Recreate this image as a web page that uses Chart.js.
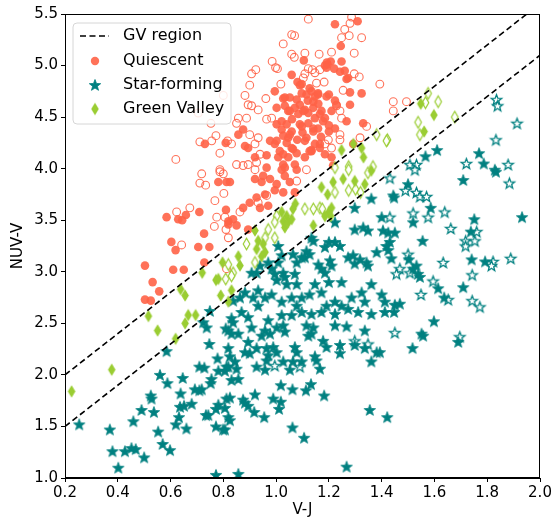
<!DOCTYPE html>
<html>
<head>
<meta charset="utf-8">
<script src="https://cdn.jsdelivr.net/npm/chart.js@4/dist/chart.umd.min.js"></script>
<style>
    html, body { margin: 0; padding: 0; background: #fff; }
    #wrap { width: 554px; height: 523px; }
</style>
</head>
<body>
<div id="wrap"><canvas id="cmd" width="554" height="523"></canvas></div>
<script>
'use strict';

// ---- data ----
var xTicks = [0.2, 0.4, 0.6, 0.8, 1.0, 1.2, 1.4, 1.6, 1.8, 2.0];
var yTicks = [1.0, 1.5, 2.0, 2.5, 3.0, 3.5, 4.0, 4.5, 5.0, 5.5];

// GV region boundaries (end points)
var gvLineX = [0.2, 2.0];
var gvUpperY = [2.0, 5.6];
var gvLowerY = [1.5, 5.1];

var quiescentFilled = [
    [0.73,4.24],[0.809,4.25],
    [1.309,5.43],[1.223,5.40],[1.245,5.19],[1.105,5.05],[1.192,5.03],[1.195,5.01],[1.207,5.04],[1.185,5.0],
    [1.248,5.04],[1.22,4.97],[1.26,4.95],[1.273,4.88],[1.059,4.91],[1.081,4.84],[1.09,4.81],[0.995,4.75],
    [1.027,4.68],[1.052,4.69],[1.097,4.73],[1.115,4.72],[1.134,4.75],[1.147,4.70],[1.159,4.72],[1.2,4.72],
    [1.223,4.66],[1.28,4.74],[1.324,4.73],[1.033,4.61],[1.046,4.56],[1.071,4.59],[1.084,4.53],[1.109,4.57],
    [1.122,4.54],[1.141,4.59],[1.147,4.49],[1.172,4.56],[1.185,4.49],[1.21,4.56],[0.875,4.38],[0.857,4.33],
    [1.002,4.43],[1.021,4.38],[1.04,4.43],[1.059,4.36],[1.027,4.32],[1.046,4.30],[1.097,4.41],[1.122,4.44],
    [1.141,4.36],[1.159,4.39],[1.178,4.46],[1.223,4.39],[1.33,4.44],[0.977,4.27],[0.995,4.24],[1.014,4.17],
    [1.04,4.25],[1.059,4.20],[1.078,4.15],[1.109,4.27],[1.127,4.17],[1.147,4.24],[0.882,4.22],[0.894,4.20],
    [0.964,4.13],[1.008,4.11],[1.027,4.04],[1.046,4.11],[1.071,4.04],[1.109,4.11],[1.134,4.18],[1.166,4.20],
    [1.185,4.14],[1.21,4.11],[1.216,4.03],[0.92,4.11],[0.964,4.01],[1.033,4.01],
    [1.09,4.62],[1.16,4.63],[1.12,4.66],[1.06,4.48],[1.2,4.42],[1.1,4.35],[1.17,4.31],[1.08,4.28],
    [1.097,4.82],[1.127,4.78],[1.159,4.73],[1.033,4.69],[1.078,4.67],[1.141,4.65],[1.191,4.70],[1.229,4.62],
    [1.002,4.59],[1.052,4.56],[1.103,4.56],[1.166,4.53],[1.021,4.46],[1.09,4.43],[1.141,4.39],[1.2,4.36],
    [1.052,4.33],[1.115,4.30],[1.002,4.27],[1.166,4.24],[1.064,4.19],[1.134,4.17],[1.027,4.14],[1.267,4.46],
    [1.28,4.62],[1.242,4.94],[1.267,4.87],[1.191,4.98],[1.292,4.24],
    [0.781,3.87],[0.812,3.87],[0.81,3.60],[0.819,3.49],[0.585,3.53],[0.629,3.51],[0.644,3.50],[0.658,3.55],
    [0.709,3.58],[0.727,3.37],[0.603,3.29],[0.705,3.24],[0.747,3.24],[0.619,3.21],[0.728,3.09],[0.503,3.06],
    [0.61,3.02],[0.65,3.02],[0.532,2.90],[0.557,2.81],[0.503,2.73],[0.525,2.72],
    [1.021,3.99],[0.951,3.93],[0.977,3.90],[1.033,3.93],[1.078,3.99],[0.92,3.90],[0.945,3.87],[1.002,3.85],
    [1.052,3.87],[0.995,3.79],[1.027,3.77],[0.958,3.75],[0.926,3.72],[1.071,3.77],[0.825,3.87],[0.90,3.67],
    [0.939,3.62],[0.97,3.64],[0.875,3.62],[0.837,3.51],[0.819,3.46],[0.85,3.45],[0.894,3.41]
];

var quiescentOpen = [
    [0.80,4.71],[0.705,4.54],[0.753,4.44],[0.772,4.32],[0.711,4.26],[0.756,4.27],[0.787,4.15],[0.62,4.09],[0.787,3.99],
    [1.122,5.45],[1.286,5.47],[1.28,5.41],[1.059,5.30],[1.07,5.29],[1.027,5.21],[1.26,5.35],[1.248,5.27],
    [1.277,5.29],[1.324,5.27],[1.21,5.13],[1.296,5.12],[1.059,5.11],[1.069,5.08],[1.109,5.12],[1.163,5.11],
    [0.985,5.04],[1.005,4.97],[0.998,4.98],[1.122,4.97],[1.137,4.96],[1.147,4.93],[1.109,4.92],[1.166,4.96],
    [1.296,4.92],[1.315,4.89],[0.907,4.92],[0.923,4.96],[1.103,4.88],[1.153,4.83],[1.182,4.84],[0.90,4.81],
    [0.882,4.71],[1.018,4.82],[1.254,4.76],[1.393,4.82],[0.907,4.61],[0.932,4.57],[0.961,4.68],[0.894,4.62],
    [1.229,4.61],[1.242,4.56],[1.248,4.49],[0.983,4.49],[0.964,4.48],[0.857,4.49],[0.888,4.49],[0.85,4.44],
    [1.242,4.33],[1.343,4.41],[1.318,4.30],[0.932,4.30],[0.90,4.33],[0.92,4.24],[0.939,4.14],[0.816,4.27],
    [0.831,4.24],[0.85,4.04],[0.875,4.03],[0.894,4.04],[0.926,4.06],[1.185,4.24],[1.198,4.28],[1.21,4.20],
    [1.242,4.28],
    [1.444,4.65],[1.444,4.56],[1.494,4.65],
    [0.718,3.95],[0.787,3.97],[0.80,3.95],[0.711,3.86],[0.733,3.84],[0.802,3.76],[0.768,3.69],[0.775,3.53],
    [0.806,3.53],[0.766,3.44],[0.623,3.58],[0.673,3.62],[0.81,3.41],[0.642,3.26],[0.812,3.03],
    [0.92,3.99],[1.078,3.88],[1.115,3.99],[0.964,3.74],[0.932,3.67],[0.819,3.33],[0.863,3.58]
];

var starFormingFilled = [
    [1.61,4.18],[1.566,4.12],[1.769,4.15],[1.787,4.05],[1.829,3.99],[0.749,2.62],[0.724,2.51],
    [1.361,3.71],[1.298,3.62],[1.40,3.53],[1.223,3.48],[1.33,3.43],[1.348,3.40],[1.298,3.41],[1.405,3.40],
    [1.2,3.29],[1.223,3.29],[1.242,3.25],[1.185,3.24],[1.134,3.33],[1.141,3.30],[1.115,3.20],[1.127,3.17],
    [1.109,3.14],[1.273,3.14],[1.292,3.16],[1.318,3.12],[1.298,3.08],[1.381,3.19],[1.343,3.09],[1.348,3.06],
    [1.204,3.11],[1.21,3.06],[1.16,3.07],[1.172,3.03],[1.185,2.99],[1.064,3.17],[1.078,3.09],[1.097,3.14],
    [1.008,3.25],[1.021,3.16],[1.008,3.09],[0.983,3.03],[1.027,2.99],[1.033,2.95],[1.071,2.98],[1.078,2.88],
    [1.04,2.88],[0.995,2.98],[1.002,2.92],[0.97,3.09],[0.939,3.06],[0.926,2.99],[0.907,2.99],[0.882,2.80],
    [0.863,2.75],[0.837,2.72],[0.932,2.82],[0.913,2.75],[0.958,2.75],[0.983,2.78],[1.021,2.71],[1.059,2.75],
    [1.097,2.75],[1.078,2.67],[1.147,2.88],[1.127,2.78],[1.172,2.80],[1.2,2.90],[1.248,2.90],[1.361,2.88],
    [1.286,2.75],[1.324,2.80],[1.336,2.71],[1.40,2.78],[1.412,2.71],[1.223,2.71],[1.191,2.67],[1.248,2.67],
    [1.172,2.61],[1.223,2.59],[1.273,2.64],[1.311,2.61],[1.361,2.59],[1.097,2.61],[1.134,2.59],[1.059,2.58],
    [1.021,2.58],[0.97,2.53],[0.894,2.56],[0.869,2.61],[0.831,2.55],[0.932,2.67],
    [1.50,3.85],[1.444,3.74],[1.447,3.72],[1.586,3.62],[1.519,3.48],[1.709,3.89],[1.833,3.97],[1.932,3.53],
    [1.751,3.51],[1.738,3.39],[1.425,3.38],[1.45,3.38],[1.418,3.25],[1.431,3.29],[1.425,3.21],[1.555,3.30],
    [1.437,3.13],[1.503,3.12],[1.532,3.06],[1.519,3.03],[1.538,2.98],[1.545,2.95],[1.741,3.12],[1.792,3.10],
    [1.614,2.84],[1.709,2.85],[1.637,2.75],[1.45,2.68],[1.469,2.69],[1.447,2.61],[1.412,2.61],[1.598,2.52],
    [0.254,1.52],[0.37,1.47],[0.38,1.26],[0.402,1.10],[0.427,1.26],[0.452,1.29],[0.468,1.28],[0.50,1.20],
    [0.459,1.55],[0.49,1.66],[0.537,1.64],[0.525,1.80],[0.528,1.77],[0.553,1.45],[0.57,1.33],[0.598,1.27],
    [0.56,2.0],[0.588,1.92],[0.585,2.23],[0.646,1.97],[0.638,1.82],[0.636,1.69],[0.651,1.70],[0.68,1.72],
    [0.632,1.59],[0.62,1.52],[0.66,1.48],[0.692,1.86],[0.709,1.85],[0.718,1.86],[0.709,2.08],[0.728,2.07],
    [0.755,1.96],[0.752,1.92],[0.734,1.61],[0.743,1.61],[0.772,1.67],[0.781,1.71],[0.806,1.68],[0.772,1.50],
    [0.799,1.47],[0.812,1.77],[0.747,2.30],[0.778,2.16],[0.781,2.04],[0.806,2.04],[0.819,2.08],[0.809,2.45],
    [0.737,2.46],[0.772,1.03],
    [0.837,2.51],[0.819,2.43],[0.857,2.40],[0.831,2.40],[0.907,2.46],[0.945,2.38],[0.958,2.43],[0.977,2.40],
    [1.002,2.46],[1.027,2.48],[1.033,2.42],[0.894,2.32],[0.882,2.22],[0.90,2.21],[0.926,2.26],[0.964,2.26],
    [0.989,2.27],[1.002,2.22],[0.97,2.19],[0.819,2.26],[0.825,2.18],[0.844,2.13],[0.85,2.06],[0.812,2.08],
    [0.926,2.08],[0.958,2.05],[0.964,2.14],[1.027,2.13],[1.052,2.05],[1.071,2.27],[1.078,2.22],[1.064,2.13],
    [1.097,2.13],[1.115,2.48],[1.141,2.46],[1.134,2.40],[1.122,2.38],[1.178,2.33],[1.191,2.27],
    [1.147,2.18],[1.153,2.14],[1.166,2.06],[1.223,2.48],[1.267,2.47],[1.242,2.29],[1.242,2.21],[1.298,2.29],
    [1.336,2.43],[1.336,2.26],[1.381,2.22],[1.393,2.22],[1.361,2.13],[0.831,1.95],[0.857,1.96],[0.825,1.78],
    [0.875,1.76],[0.882,1.73],[0.894,1.70],[0.819,1.59],[0.825,1.56],[0.806,1.47],[0.92,1.81],[0.917,1.64],
    [0.955,1.59],[0.989,1.77],[1.018,1.74],[1.011,1.67],[1.018,1.90],[1.062,1.86],[1.113,1.85],[1.132,1.91],
    [1.182,1.80],[1.062,1.49],[1.106,1.39],[1.267,1.11],[1.355,1.66],[1.421,1.59],[0.857,1.04],
    [1.551,2.40],[1.557,2.38],[1.517,2.26],[1.69,2.32]
];

var starFormingOpen = [
    [1.835,4.67],[1.839,4.61],[1.913,4.44],[1.833,4.28],[1.721,4.05],[1.879,4.04],[1.507,4.04],[1.532,4.04],
    [1.431,3.91],[1.526,3.99],[1.49,3.79],[1.532,3.77],[1.545,3.73],[1.57,3.73],[1.519,3.57],[1.576,3.53],
    [1.639,3.58],[1.431,3.53],[1.884,3.86],[1.662,3.42],[1.76,3.39],[1.718,3.30],[1.718,3.25],[1.753,3.30],
    [1.50,3.17],[1.507,2.99],[1.469,3.03],[1.456,2.98],[1.633,3.09],[1.822,3.10],[1.816,3.06],[1.889,3.13],
    [1.743,2.97],[1.595,2.91],[1.549,2.78],[1.652,2.73],[1.743,2.72],[1.772,2.66],
    [1.45,2.41],[1.696,2.37],[0.995,2.09],[1.09,2.08],[1.298,2.33],[1.348,2.30]
];

var greenValleyFilled = [
    [1.248,4.18],[1.293,4.24],[1.324,4.20],[1.331,4.11],[1.548,4.63],[1.598,4.52],[1.561,4.36],
    [0.797,3.09],[0.72,2.99],[0.772,2.92],[0.781,2.93],[0.638,2.83],[0.655,2.77],[0.79,2.77],[0.667,2.58],
    [0.695,2.58],[0.516,2.57],[0.655,2.50],[0.819,2.71],
    [1.361,3.98],[1.298,3.88],[1.254,3.90],[1.216,3.87],[1.172,3.82],[1.195,3.75],[1.336,3.85],[1.21,3.62],
    [1.2,3.58],[1.207,3.54],[1.185,3.54],[1.073,3.66],[1.064,3.61],[1.021,3.58],[1.04,3.54],[1.027,3.49],
    [1.046,3.48],[1.059,3.51],[1.033,3.43],[1.141,3.45],[0.92,3.40],[0.932,3.30],[0.951,3.27],[0.958,3.19],
    [0.945,3.15],[0.926,3.22],[0.857,3.15],[0.863,3.06],[0.831,2.82],
    [0.225,1.84],[0.377,2.05],[0.551,2.43],[0.619,2.35]
];

var greenValleyOpen = [
    [1.381,4.33],[1.422,4.28],[1.223,4.01],[1.275,4.02],[1.367,4.02],
    [1.566,4.64],[1.576,4.73],[1.614,4.65],[1.538,4.45],[1.545,4.33],[1.677,4.50],[1.418,4.27],
    [0.809,2.93],
    [1.348,3.96],[1.275,3.99],[1.275,3.79],[1.301,3.80],[1.32,3.77],[1.223,3.77],[1.166,3.62],[1.175,3.61],
    [1.141,3.61],[1.109,3.61],[1.002,3.54],[0.995,3.48],[0.97,3.41],[0.995,3.33],[0.958,3.33],[0.888,3.27],
    [0.92,3.09],[0.819,3.07],[0.837,2.99],[0.831,2.96]
];

var legendLabels = ['GV region', 'Quiescent', 'Star-forming', 'Green Valley'];

// ---- styling ----
var QUIESCENT_COLOR = 'rgba(255, 99, 71, 0.9)';
var STAR_COLOR = 'rgb(0, 128, 128)';
var GV_COLOR = 'rgb(154, 205, 50)';
var FONT = "'DejaVu Sans', sans-serif";

function toPoints(pairs) {
    return pairs.map(function (p) { return { x: p[0], y: p[1] }; });
}

function makeStar(outer, color, filled) {
    var size = Math.ceil(outer * 2 + 4);
    var c = document.createElement('canvas');
    c.width = size;
    c.height = size;
    var ctx = c.getContext('2d');
    var cx = size / 2, cy = size / 2 + 0.5;
    var inner = outer * 0.42;
    ctx.beginPath();
    for (var i = 0; i < 10; i++) {
        var a = -Math.PI / 2 + i * Math.PI / 5;
        var r = (i % 2) ? inner : outer;
        var px = cx + r * Math.cos(a), py = cy + r * Math.sin(a);
        if (i === 0) { ctx.moveTo(px, py); } else { ctx.lineTo(px, py); }
    }
    ctx.closePath();
    ctx.lineJoin = 'miter';
    if (filled) {
        ctx.fillStyle = color;
        ctx.fill();
        ctx.strokeStyle = color;
        ctx.lineWidth = 0.8;
        ctx.stroke();
    } else {
        ctx.fillStyle = '#fff';
        ctx.fill();
        ctx.strokeStyle = color;
        ctx.lineWidth = 1.3;
        ctx.stroke();
    }
    return c;
}

function makeDiamond(halfW, halfH, color, filled) {
    var w = Math.ceil(halfW * 2 + 4), h = Math.ceil(halfH * 2 + 4);
    var c = document.createElement('canvas');
    c.width = w;
    c.height = h;
    var ctx = c.getContext('2d');
    var cx = w / 2, cy = h / 2;
    ctx.beginPath();
    ctx.moveTo(cx, cy - halfH);
    ctx.lineTo(cx + halfW, cy);
    ctx.lineTo(cx, cy + halfH);
    ctx.lineTo(cx - halfW, cy);
    ctx.closePath();
    if (filled) {
        ctx.fillStyle = color;
        ctx.fill();
    } else {
        ctx.fillStyle = '#fff';
        ctx.fill();
        ctx.strokeStyle = color;
        ctx.lineWidth = 1.2;
        ctx.stroke();
    }
    return c;
}

var starFilledImg = makeStar(6, STAR_COLOR, true);
var starOpenImg = makeStar(5.5, STAR_COLOR, false);
var diamondFilledImg = makeDiamond(3.8, 6.2, GV_COLOR, true);
var diamondOpenImg = makeDiamond(3.3, 5.8, GV_COLOR, false);

// frame round the plot and the legend box drawn in the top-left corner
var framePlugin = {
    id: 'frame',
    afterDatasetsDraw: function (chart) {
        var ctx = chart.ctx, a = chart.chartArea;
        ctx.save();
        ctx.strokeStyle = '#000';
        ctx.lineWidth = 1;
        ctx.strokeRect(Math.round(a.left) + 0.5, Math.round(a.top) + 0.5,
            Math.round(a.right - a.left) - 1, Math.round(a.bottom - a.top) - 1);
        ctx.restore();
    },
    afterDraw: function (chart) {
        var ctx = chart.ctx, a = chart.chartArea;
        var bx = a.left + 8, by = a.top + 9, bw = 158, bh = 101, r = 4;
        ctx.save();
        ctx.beginPath();
        ctx.moveTo(bx + r, by);
        ctx.arcTo(bx + bw, by, bx + bw, by + bh, r);
        ctx.arcTo(bx + bw, by + bh, bx, by + bh, r);
        ctx.arcTo(bx, by + bh, bx, by, r);
        ctx.arcTo(bx, by, bx + bw, by, r);
        ctx.closePath();
        ctx.fillStyle = 'rgba(255,255,255,0.85)';
        ctx.fill();
        ctx.strokeStyle = '#d6d6d6';
        ctx.lineWidth = 1;
        ctx.stroke();

        var rowY = [by + 13, by + 38, by + 62, by + 86];
        var mx = bx + 22;
        // dashed line
        ctx.beginPath();
        ctx.setLineDash([6, 3.5]);
        ctx.strokeStyle = '#000';
        ctx.lineWidth = 1.6;
        ctx.moveTo(bx + 7, rowY[0]);
        ctx.lineTo(bx + 36, rowY[0]);
        ctx.stroke();
        ctx.setLineDash([]);
        // circle
        ctx.beginPath();
        ctx.arc(mx, rowY[1], 4.2, 0, Math.PI * 2);
        ctx.fillStyle = QUIESCENT_COLOR;
        ctx.fill();
        ctx.drawImage(starFilledImg, mx - starFilledImg.width / 2, rowY[2] - starFilledImg.height / 2);
        ctx.drawImage(diamondFilledImg, mx - diamondFilledImg.width / 2, rowY[3] - diamondFilledImg.height / 2);

        ctx.fillStyle = '#000';
        ctx.font = '16px ' + FONT;
        ctx.textBaseline = 'middle';
        ctx.textAlign = 'left';
        for (var i = 0; i < legendLabels.length; i++) {
            ctx.fillText(legendLabels[i], bx + 50, rowY[i]);
        }
        ctx.restore();
    }
};

var ctxEl = document.getElementById('cmd');

new Chart(ctxEl, {
    type: 'scatter',
    data: {
        datasets: [{
            label: legendLabels[0] + ' upper',
            data: gvLineX.map(function (x, i) { return { x: x, y: gvUpperY[i] }; }),
            showLine: true,
            borderColor: '#000',
            borderWidth: 1.6,
            borderDash: [6, 3.5],
            pointRadius: 0,
            order: 0
        }, {
            label: legendLabels[0] + ' lower',
            data: gvLineX.map(function (x, i) { return { x: x, y: gvLowerY[i] }; }),
            showLine: true,
            borderColor: '#000',
            borderWidth: 1.6,
            borderDash: [6, 3.5],
            pointRadius: 0,
            order: 0
        }, {
            label: legendLabels[1],
            data: toPoints(quiescentFilled),
            pointStyle: 'circle',
            pointRadius: 4.3,
            borderWidth: 0,
            backgroundColor: QUIESCENT_COLOR,
            borderColor: QUIESCENT_COLOR,
            order: 3
        }, {
            label: legendLabels[1] + ' (open)',
            data: toPoints(quiescentOpen),
            pointStyle: 'circle',
            pointRadius: 3.9,
            borderWidth: 1.1,
            backgroundColor: 'rgba(255,255,255,0)',
            borderColor: QUIESCENT_COLOR,
            order: 4
        }, {
            label: legendLabels[2],
            data: toPoints(starFormingFilled),
            pointStyle: starFilledImg,
            order: 3
        }, {
            label: legendLabels[2] + ' (open)',
            data: toPoints(starFormingOpen),
            pointStyle: starOpenImg,
            order: 4
        }, {
            label: legendLabels[3],
            data: toPoints(greenValleyFilled),
            pointStyle: diamondFilledImg,
            order: 2
        }, {
            label: legendLabels[3] + ' (open)',
            data: toPoints(greenValleyOpen),
            pointStyle: diamondOpenImg,
            order: 2
        }]
    },
    options: {
        responsive: false,
        animation: false,
        events: [],
        layout: {
            padding: { top: 14, right: 14, left: 0, bottom: 0 }
        },
        plugins: {
            legend: { display: false },
            tooltip: { enabled: false }
        },
        scales: {
            x: {
                type: 'linear',
                min: 0.2,
                max: 2.0,
                afterFit: function (scale) { scale.height = 45; },
                afterBuildTicks: function (scale) {
                    scale.ticks = xTicks.map(function (v) { return { value: v }; });
                },
                ticks: {
                    color: '#000',
                    font: { family: FONT, size: 15 },
                    padding: 2,
                    maxRotation: 0,
                    callback: function (value) { return Number(value).toFixed(1); }
                },
                grid: { drawOnChartArea: false, drawTicks: true, tickLength: 4, color: '#000' },
                border: { display: true, color: '#000' },
                title: {
                    display: true,
                    text: 'V-J',
                    color: '#000',
                    font: { family: FONT, size: 15 },
                    padding: { top: 0, bottom: 4 }
                }
            },
            y: {
                type: 'linear',
                min: 1.0,
                max: 5.5,
                afterFit: function (scale) { scale.width = 65; },
                afterBuildTicks: function (scale) {
                    scale.ticks = yTicks.map(function (v) { return { value: v }; });
                },
                ticks: {
                    color: '#000',
                    font: { family: FONT, size: 15 },
                    padding: 3,
                    callback: function (value) { return Number(value).toFixed(1); }
                },
                grid: { drawOnChartArea: false, drawTicks: true, tickLength: 4, color: '#000' },
                border: { display: true, color: '#000' },
                title: {
                    display: true,
                    text: 'NUV-V',
                    color: '#000',
                    font: { family: FONT, size: 15 },
                    padding: { top: 9, bottom: 0 }
                }
            }
        }
    },
    plugins: [framePlugin]
});
</script>
</body>
</html>
